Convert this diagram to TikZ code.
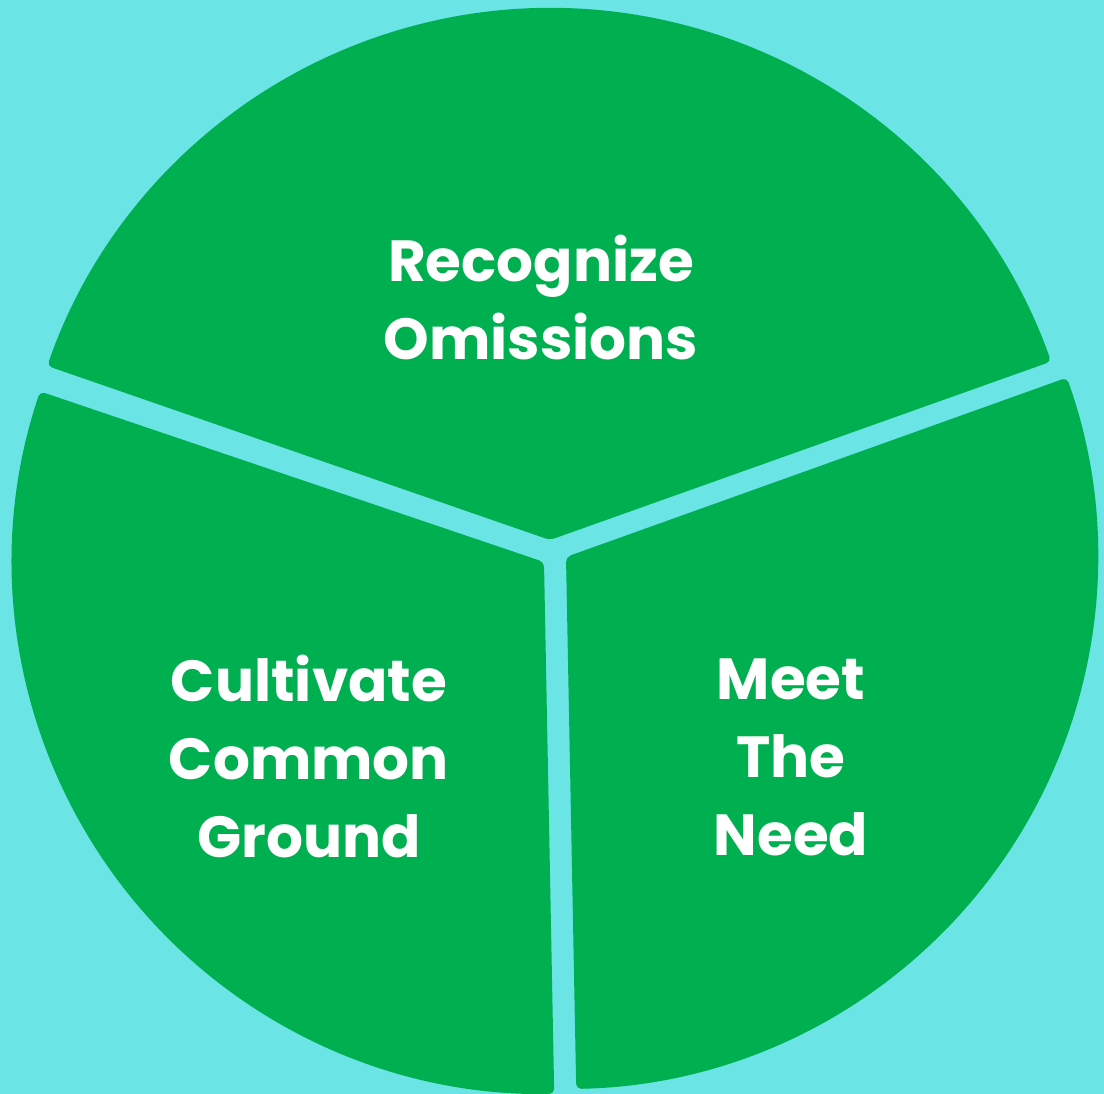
\documentclass[tikz,border=0pt]{standalone}
\usepackage{fontspec}
\setmainfont{Poppins}
\definecolor{bgcyan}{RGB}{107,228,230}
\definecolor{slicegreen}{RGB}{0,175,80}
\begin{document}
\begin{tikzpicture}[x=1pt,y=1pt,
  slice/.style={fill=slicegreen, rounded corners=5pt},
  label/.style={text=white, align=center, font=\bfseries\fontsize{58}{78}\selectfont}]
  % background
  \fill[bgcyan] (0,0) rectangle (1104,1094);
  \useasboundingbox (0,0) rectangle (1104,1094);
  % slice tips
  \coordinate (vtop) at (550,554);
  \coordinate (vleft) at (544,532);
  \coordinate (vright) at (566,537);
  % three exploded slices
  \fill[slice] (vtop) -- ++(19.6:532) arc[start angle=19.6, end angle=160.9, radius=532] -- cycle;
  \fill[slice] (vleft) -- ++(161.3:532) arc[start angle=161.3, end angle=271.1, radius=532] -- cycle;
  \fill[slice] (vright) -- ++(-88.9:532) arc[start angle=-88.9, end angle=19.7, radius=532] -- cycle;
  % labels
  \node[label] (ltop) at (541,796) {Recognize\\Omissions};
  \node[label] (lleft) at (309,337) {Cultivate\\Common\\Ground};
  \node[label] (lright) at (791,337) {Meet\\The\\Need};
\end{tikzpicture}
\end{document}
